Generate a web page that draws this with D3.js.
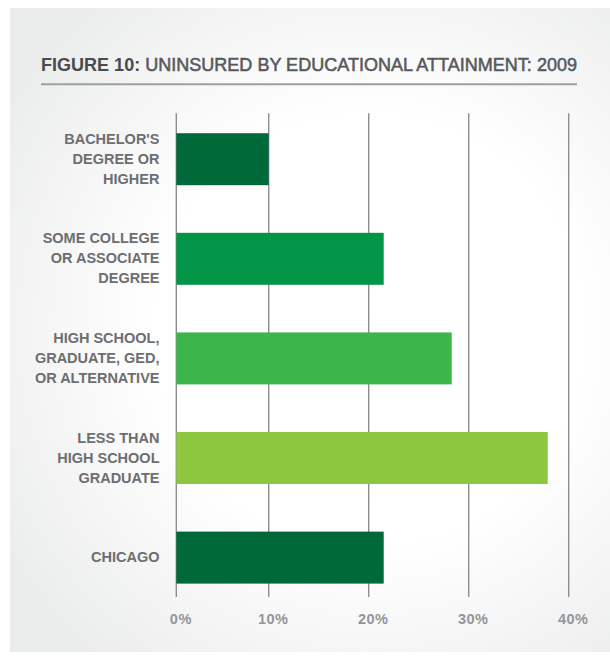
<!DOCTYPE html>
<html>
<head>
<meta charset="utf-8">
<script src="https://cdn.jsdelivr.net/npm/d3@7/dist/d3.min.js"></script>
<style>
  html, body { margin: 0; padding: 0; background: #ffffff; }
  svg { display: block; }
</style>
</head>
<body>
<script>
// ---- Data ----
const categories = [
  "BACHELOR'S|DEGREE OR|HIGHER",
  "SOME COLLEGE|OR ASSOCIATE|DEGREE",
  "HIGH SCHOOL,|GRADUATE, GED,|OR ALTERNATIVE",
  "LESS THAN|HIGH SCHOOL|GRADUATE",
  "CHICAGO"
];
const values = [10.0, 21.5, 28.3, 37.9, 21.5];
const barColors = ["#00693a", "#029547", "#3bb54a", "#8dc63f", "#00693a"];
const tickValues = [0, 10, 20, 30, 40];
const tickLabels = ["0%", "10%", "20%", "30%", "40%"];
const titleBold = "FIGURE 10:";
const titleRest = "UNINSURED BY EDUCATIONAL ATTAINMENT: 2009";

// ---- Layout ----
const W = 610, H = 661;
const svg = d3.select("body").append("svg").attr("width", W).attr("height", H);

const defs = svg.append("defs");
const grad = defs.append("radialGradient")
  .attr("id", "bg").attr("gradientUnits", "userSpaceOnUse")
  .attr("cx", 370).attr("cy", 330).attr("r", 430);
grad.append("stop").attr("offset", "0").attr("stop-color", "#ffffff");
grad.append("stop").attr("offset", "0.5").attr("stop-color", "#ffffff");
grad.append("stop").attr("offset", "1").attr("stop-color", "#ebecec");

svg.append("rect").attr("x", 10).attr("y", 8).attr("width", 600).attr("height", 644)
  .attr("fill", "url(#bg)");

// Title (condensed to match reference width)
const title = svg.append("text")
  .attr("x", 41).attr("y", 70.7)
  .attr("font-family", "'Liberation Sans', Arial, sans-serif")
  .attr("font-size", 18.5)
  .attr("textLength", 536)
  .attr("lengthAdjust", "spacingAndGlyphs");
title.append("tspan").attr("font-weight", 700).attr("fill", "#4b4b4d").text(titleBold);
title.append("tspan").attr("font-weight", 400).attr("fill", "#58595b")
  .attr("stroke", "#58595b").attr("stroke-width", 0.55).text(" " + titleRest);

svg.append("line").attr("x1", 41).attr("x2", 577).attr("y1", 84.3).attr("y2", 84.3)
  .attr("stroke", "#9d9fa2").attr("stroke-width", 2);

// Scales
const x = d3.scaleLinear().domain([0, 10, 40]).range([176.3, 268.7, 568.7]);
const y = d3.scaleBand().domain(categories).range([109.4, 607.4])
  .paddingInner(0.478).paddingOuter(0.239);

const gridTop = 113.3, gridBottom = 597;

// Gridlines
svg.append("g").selectAll("line").data(tickValues).join("line")
  .attr("x1", d => x(d)).attr("x2", d => x(d))
  .attr("y1", gridTop).attr("y2", gridBottom)
  .attr("stroke", "#8e8e8e").attr("stroke-width", 1.4);

// Bars
svg.append("g").selectAll("rect").data(categories).join("rect")
  .attr("x", x(0))
  .attr("y", d => y(d))
  .attr("width", (d, i) => x(values[i]) - x(0))
  .attr("height", y.bandwidth())
  .attr("fill", (d, i) => barColors[i]);

// Category labels
const lineH = 20;
const lab = svg.append("g")
  .attr("font-family", "'Liberation Sans', Arial, sans-serif")
  .attr("font-size", 14.5).attr("font-weight", 700).attr("fill", "#6d6e71")
  .attr("text-anchor", "end");
categories.forEach(c => {
  const lines = c.split("|");
  const cy = y(c) + y.bandwidth() / 2;
  const t = lab.append("text").attr("x", 159.5);
  lines.forEach((ln, j) => {
    t.append("tspan").attr("x", 159.5)
      .attr("y", cy + 4.6 + (j - (lines.length - 1) / 2) * lineH)
      .text(ln);
  });
});

// Tick labels
svg.append("g")
  .attr("font-family", "'Liberation Sans', Arial, sans-serif")
  .attr("font-size", 14.5).attr("font-weight", 700).attr("fill", "#939598")
  .attr("text-anchor", "middle")
  .selectAll("text").data(tickValues).join("text")
  .attr("x", d => x(d) + 4.5)
  .attr("y", 624)
  .attr("letter-spacing", 0.5)
  .text((d, i) => tickLabels[i]);
</script>
</body>
</html>
